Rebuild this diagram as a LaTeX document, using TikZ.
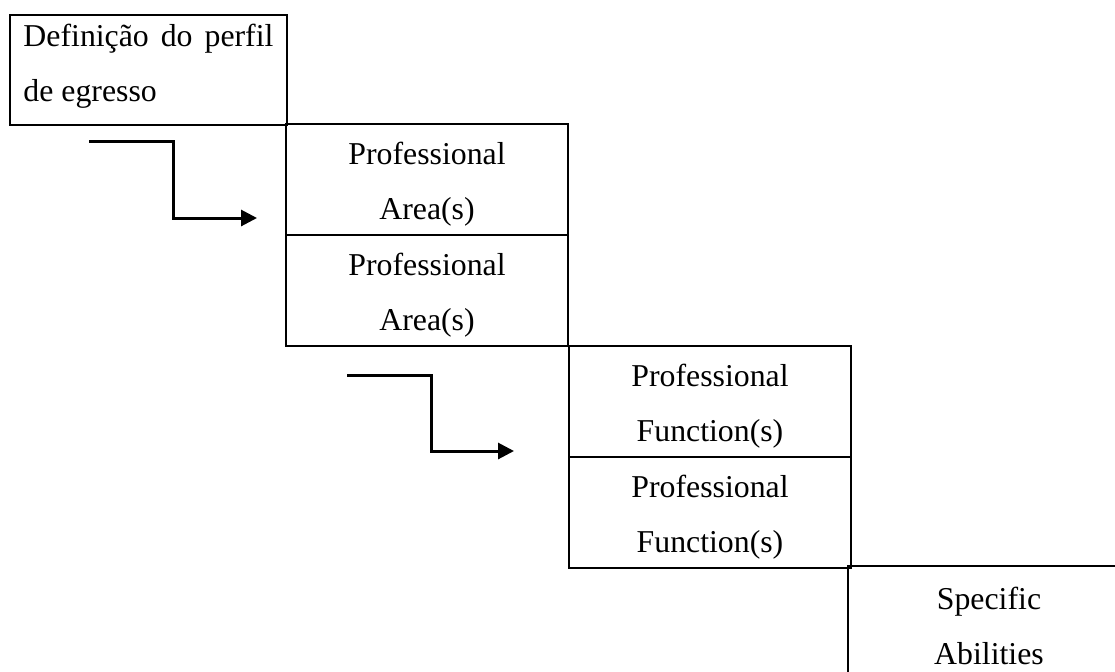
\documentclass[tikz,border=0pt]{standalone}
\usepackage{fontspec}
\setmainfont{Liberation Serif}
\usetikzlibrary{arrows.meta,positioning}
\newcommand{\toppad}{\rule{0pt}{16pt}}
\newcommand{\lowpad}{\rule[-7.5pt]{0pt}{7.5pt}}
\tikzset{
	stagebox/.style={
			draw, rectangle, line width=0.6pt, inner sep=0pt, outer sep=0pt,
			anchor=north west, minimum width=141pt, minimum height=55.5pt,
			align=center, font=\fontsize{15.9}{27.5}\selectfont
		},
	flow/.style={line width=1.5pt, -{Triangle[length=8pt,width=8pt]}}
}

\begin{document}
\begin{tikzpicture}[x=0.5pt, y=-0.5pt]
        \useasboundingbox (0,0) rectangle (1115,671);
        \clip (0,0) rectangle (1115,671);

        \node[stagebox, minimum width=138.5pt, minimum height=55pt, text width=125pt,
            inner xsep=6.75pt, align=justify] (perfil) at (10,15)
            {Definição do perfil\linebreak de egresso\lowpad};

        \node[stagebox] (area1) at (286,124) {\toppad Professional\\Area(s)};
        \node[stagebox] (area2) at (286,235) {\toppad Professional\\Area(s)};
        \node[stagebox] (func1) at (569,346) {\toppad Professional\\Function(s)};
        \node[stagebox] (func2) at (569,457) {\toppad Professional\\Function(s)};
        \node[stagebox] (spec) at (848,566) {\toppad Specific\\Abilities};

        \coordinate (f1s) at (89,141);
        \coordinate (f1k) at (173,218);
        \coordinate (f1e) at (257,218);
        \draw[flow] (f1s) -| (f1k) -- (f1e);

        \coordinate (f2s) at (347,375);
        \coordinate (f2k) at (431,451);
        \coordinate (f2e) at (514,451);
        \draw[flow] (f2s) -| (f2k) -- (f2e);
    \end{tikzpicture}
\end{document}
